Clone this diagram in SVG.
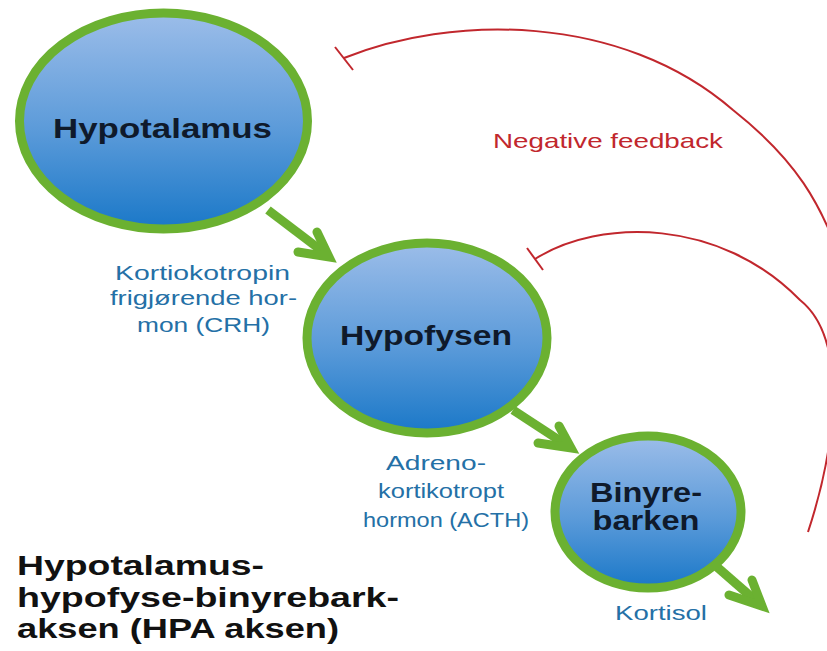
<svg xmlns="http://www.w3.org/2000/svg" width="827" height="651" viewBox="0 0 827 651">
  <defs>
    <linearGradient id="blueFill" x1="0" y1="0" x2="0" y2="1">
      <stop offset="0" stop-color="#9cbde9"/>
      <stop offset="0.55" stop-color="#5a9ad9"/>
      <stop offset="1" stop-color="#1a78c8"/>
    </linearGradient>
  </defs>
  <style>
    .node { fill: url(#blueFill); stroke: #6bb131; stroke-width: 9; }
    .nodeText { font-family: "Liberation Sans", Arial, sans-serif; font-weight: bold; font-size: 28px; fill: #0f1a2b; text-anchor: middle; }
    .flow { fill: none; stroke: #6bb131; stroke-width: 9; stroke-linecap: butt; }
    .head { fill: none; stroke: #6bb131; stroke-width: 9; stroke-linecap: round; stroke-linejoin: miter; }
    .fb { fill: none; stroke: #c1272d; stroke-width: 2; }
    .label { font-family: "Liberation Sans", Arial, sans-serif; font-size: 21px; fill: #2470a6; text-anchor: middle; }
    .fbText { font-family: "Liberation Sans", Arial, sans-serif; font-size: 21px; fill: #c1272d; }
    .title { font-family: "Liberation Sans", Arial, sans-serif; font-weight: bold; font-size: 28px; fill: #111111; }
  </style>
  <rect width="827" height="651" fill="#ffffff"/>

  <g id="connectors">
    <g id="flow-arrows">
      <line class="flow" x1="268" y1="210" x2="322" y2="251"/>
      <polyline class="head" points="298,252 329,257 317,232"/>
      <line class="flow" x1="513" y1="410" x2="565" y2="444"/>
      <polyline class="head" points="538,443 571,448 559,426"/>
      <line class="flow" x1="717" y1="567" x2="756" y2="601"/>
      <polyline class="head" points="729,595 762,606 752,580"/>
    </g>
    <g id="feedback">
      <path class="fb" d="M 344 58 C 450 15, 620 12, 733 110 C 790 155, 825 200, 850 290"/>
      <line class="fb" x1="335" y1="47" x2="353" y2="70"/>
      <path class="fb" d="M 535 259 C 600 218, 720 218, 800 300 C 850 340, 835 450, 808 532"/>
      <line class="fb" x1="527" y1="248" x2="543" y2="270"/>
    </g>
  </g>

  <g id="node-hypotalamus">
    <ellipse class="node" cx="163.5" cy="121" rx="144" ry="108"/>
    <text class="nodeText" x="162.5" y="138" textLength="219" lengthAdjust="spacingAndGlyphs">Hypotalamus</text>
  </g>
  <g id="node-hypofysen">
    <ellipse class="node" cx="427" cy="338" rx="120" ry="95"/>
    <text class="nodeText" x="426" y="345" textLength="172" lengthAdjust="spacingAndGlyphs">Hypofysen</text>
  </g>
  <g id="node-binyrebarken">
    <ellipse class="node" cx="648" cy="512" rx="93" ry="76"/>
    <text class="nodeText" x="646" y="502" textLength="112" lengthAdjust="spacingAndGlyphs">Binyre-</text>
    <text class="nodeText" x="646" y="530" textLength="107" lengthAdjust="spacingAndGlyphs">barken</text>
  </g>

  <g id="label-crh">
    <text class="label" x="202.5" y="280" textLength="175" lengthAdjust="spacingAndGlyphs">Kortiokotropin</text>
    <text class="label" x="203.5" y="305" textLength="187" lengthAdjust="spacingAndGlyphs">frigjørende hor-</text>
    <text class="label" x="203.5" y="332" textLength="133" lengthAdjust="spacingAndGlyphs">mon (CRH)</text>
  </g>
  <g id="label-acth">
    <text class="label" x="436" y="470" textLength="100" lengthAdjust="spacingAndGlyphs">Adreno-</text>
    <text class="label" x="441" y="498" textLength="126" lengthAdjust="spacingAndGlyphs">kortikotropt</text>
    <text class="label" x="446" y="527" textLength="166" lengthAdjust="spacingAndGlyphs">hormon (ACTH)</text>
  </g>
  <g id="label-kortisol">
    <text class="label" x="661" y="620" textLength="92" lengthAdjust="spacingAndGlyphs">Kortisol</text>
  </g>
  <g id="label-feedback">
    <text class="fbText" x="493" y="148" textLength="230" lengthAdjust="spacingAndGlyphs">Negative feedback</text>
  </g>
  <g id="title">
    <text class="title" x="17" y="575" textLength="247" lengthAdjust="spacingAndGlyphs">Hypotalamus-</text>
    <text class="title" x="17" y="607" textLength="382" lengthAdjust="spacingAndGlyphs">hypofyse-binyrebark-</text>
    <text class="title" x="17" y="638" textLength="322" lengthAdjust="spacingAndGlyphs">aksen (HPA aksen)</text>
  </g>
</svg>
